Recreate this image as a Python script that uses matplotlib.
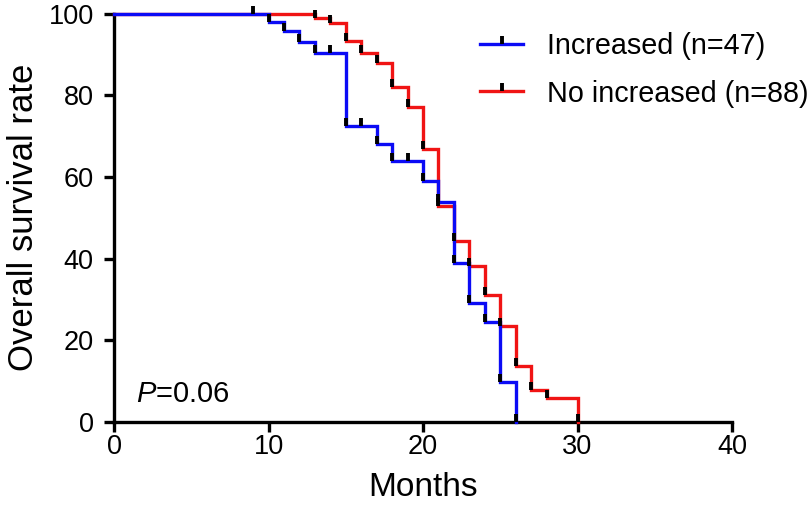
import numpy as np
import matplotlib
matplotlib.use("Agg")
import matplotlib.pyplot as plt
from matplotlib.lines import Line2D

plt.rcParams['font.family'] = ['Liberation Sans', 'DejaVu Sans']
plt.rcParams['mathtext.fontset'] = 'custom'
plt.rcParams['mathtext.rm'] = 'Liberation Sans'
plt.rcParams['mathtext.it'] = 'Liberation Sans:italic'

# ---- data ----
inc_label = "Increased (n=47)"
inc_times = [0, 10, 11, 12, 13, 15, 17, 18, 20, 21, 22, 23, 24, 25, 26]
inc_surv = [100, 97.9, 95.7, 93.1, 90.4, 72.4, 68.1, 63.8, 58.9, 53.9, 39.0, 29.2, 24.4, 9.7, 0]
inc_censor = [9, 14, 16, 19]

noinc_label = "No increased (n=88)"
noinc_times = [0, 13, 14, 15, 16, 17, 18, 19, 20, 21, 22, 23, 24, 25, 26, 27, 28, 30]
noinc_surv = [100, 98.9, 97.7, 93.2, 90.4, 87.9, 81.9, 77.1, 66.9, 52.8, 44.2, 38.1, 31.0, 23.6, 13.6, 7.8, 5.8, 0]
noinc_censor = []

x_ticks = [0, 10, 20, 30, 40]
y_ticks = [0, 20, 40, 60, 80, 100]
p_text = r"$\mathit{P}$=0.06"

BLUE = '#0b0bf5'
RED = '#f01414'
TICK = [(0, 0), (0, 1)]

W, H = 810, 525
fig = plt.figure(figsize=(W / 100, H / 100), dpi=100)
ax = fig.add_axes([114 / W, 1 - 422 / H, (732 - 114) / W, (422 - 13.5) / H])


def draw(times, surv, censor, color):
    times = np.asarray(times, float)
    surv = np.asarray(surv, float)
    ax.step(times, surv, where='post', color=color, lw=2.4, clip_on=False,
            solid_joinstyle='miter', zorder=3)
    c = np.asarray(censor, float)
    idx = np.searchsorted(times, c, side='right') - 1
    mx = np.concatenate([times[1:], c])
    my = np.concatenate([surv[1:], surv[idx] if len(c) else []])
    ax.plot(mx, my, ls='none', marker=TICK, ms=11.5, mew=2.8, mec='black',
            clip_on=False, zorder=4)


draw(noinc_times, noinc_surv, noinc_censor, RED)
draw(inc_times, inc_surv, inc_censor, BLUE)

ax.set_xlim(0, 40)
ax.set_ylim(0, 100)
ax.set_xticks(x_ticks)
ax.set_yticks(y_ticks)
for s in ['top', 'right']:
    ax.spines[s].set_visible(False)
for s in ['left', 'bottom']:
    ax.spines[s].set_linewidth(2.4)
    ax.spines[s].set_color('black')
ax.tick_params(axis='both', direction='out', length=7.5, width=2.4, labelsize=19.5)
ax.tick_params(axis='x', pad=1)
ax.tick_params(axis='y', pad=7)

ax.set_xlabel("Months", fontsize=24, labelpad=9)
ax.set_ylabel("Overall survival rate", fontsize=25, labelpad=6)

ax.text(1.42, 5.0, p_text, fontsize=21, ha='left', va='baseline')

handles = [
    Line2D([], [], color=BLUE, lw=2.4, marker=TICK, ms=11.5, mew=2.8, mec='black'),
    Line2D([], [], color=RED, lw=2.4, marker=TICK, ms=11.5, mew=2.8, mec='black'),
]
fig.legend(handles, [inc_label, noinc_label], loc='upper left',
           bbox_to_anchor=(480 / W, 1 - 32 / H), frameon=False, fontsize=20.7,
           handlelength=1.5, handletextpad=0.83, labelspacing=0.68, borderpad=0,
           borderaxespad=0, numpoints=1)

fig.savefig("out.png", dpi=100)
